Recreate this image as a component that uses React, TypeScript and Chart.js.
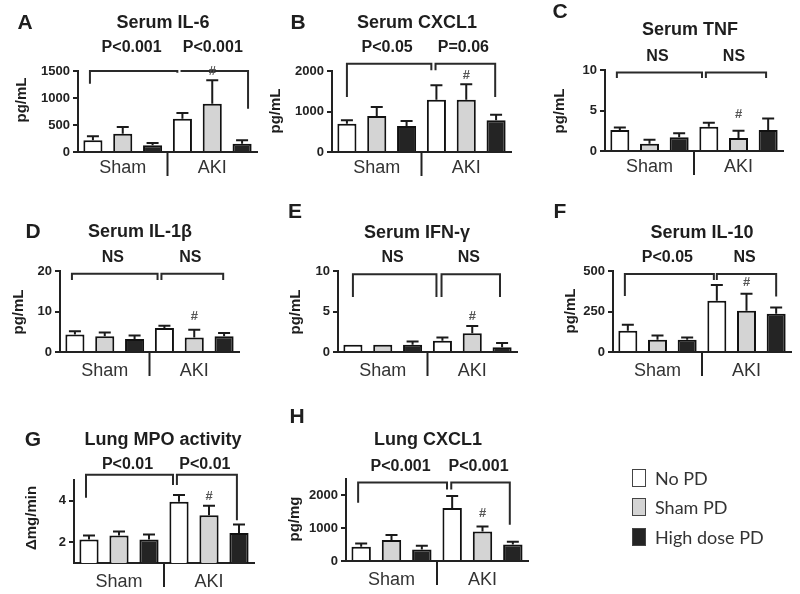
import React, { useEffect, useRef } from "react";
import { Chart, registerables } from "chart.js";
Chart.register(...registerables);

const FONT = "'Liberation Sans', Arial, Helvetica, sans-serif";
const W = 800;
const H = 594;
const Y_W = 40;
const X_H = 30;

const groups = ["Sham", "AKI"];
const treatments = ["No PD", "Sham PD", "High dose PD"];
const fills = ["#ffffff", "#d4d4d4", "#242424"];

// order: Sham/NoPD, Sham/ShamPD, Sham/HighPD, AKI/NoPD, AKI/ShamPD, AKI/HighPD
const il6Mean = [216, 340, 123, 617, 895, 154];
const il6Upper = [290, 463, 167, 722, 1327, 216];
const il6Ticks = [0, 500, 1000, 1500];
const il6Stats = ["P<0.001", "P<0.001"];
const il6Brackets = [[-0.1, 2.83, 1500, 1265, 1469], [2.97, 5.2, 1500, 1480, 802]];

const cxcl1Mean = [700, 889, 642, 1292, 1292, 782];
const cxcl1Upper = [782, 1111, 765, 1646, 1670, 922];
const cxcl1Ticks = [0, 1000, 2000];
const cxcl1Stats = ["P<0.05", "P=0.06"];
const cxcl1Brackets = [[0, 2.83, 2181, 1358, 2016], [2.97, 4.97, 2181, 2016, 1358]];

const tnfMean = [2.6, 0.9, 1.7, 3.0, 1.6, 2.6];
const tnfUpper = [2.9, 1.4, 2.2, 3.5, 2.5, 4.0];
const tnfTicks = [0, 5, 10];
const tnfStats = ["NS", "NS"];
const tnfBrackets = [[-0.1, 2.77, 9.7, 9.0, 9.0], [2.9, 4.93, 9.7, 9.0, 9.0]];

const il1bMean = [4.3, 3.9, 3.2, 5.9, 3.6, 3.9];
const il1bUpper = [5.1, 4.8, 4.1, 6.5, 5.5, 4.7];
const il1bTicks = [0, 10, 20];
const il1bStats = ["NS", "NS"];
const il1bBrackets = [[-0.1, 2.77, 19.3, 17.8, 17.8], [2.9, 4.97, 19.3, 17.8, 17.8]];

const ifngMean = [0.9, 0.9, 0.9, 1.4, 2.3, 0.6];
const ifngUpper = [0.9, 0.9, 1.3, 1.8, 3.2, 1.1];
const ifngTicks = [0, 5, 10];
const ifngStats = ["NS", "NS"];
const ifngBrackets = [[0, 2.8, 9.6, 6.8, 6.8], [2.97, 4.93, 9.6, 6.8, 6.8]];

const il10Mean = [131, 76, 76, 316, 254, 236];
const il10Upper = [168, 102, 90, 414, 359, 275];
const il10Ticks = [0, 250, 500];
const il10Stats = ["P<0.05", "NS"];
const il10Brackets = [[-0.1, 2.9, 482, 346, 445], [3.0, 5.0, 482, 445, 342]];

const mpoMean = [2.13, 2.33, 2.13, 3.95, 3.3, 2.44];
const mpoUpper = [2.33, 2.52, 2.37, 4.28, 3.76, 2.86];
const mpoTicks = [2, 4];
const mpoStats = ["P<0.01", "P<0.01"];
const mpoBrackets = [[-0.1, 2.8, 5.25, 4.15, 4.76], [2.93, 4.93, 5.25, 4.76, 3.06]];

const lungMean = [433, 639, 350, 1619, 897, 505];
const lungUpper = [536, 794, 464, 1980, 1052, 588];
const lungTicks = [0, 1000, 2000];
const lungStats = ["P<0.001", "P<0.001"];
const lungBrackets = [[-0.1, 2.83, 2392, 1773, 2180], [2.97, 4.9, 2392, 2180, 1103]];

type Panel = {
  letter: string; letterPos: number[];
  title: string; titlePos: number[];
  yLabel: string; yLabelPos: number[];
  statY: number; stats: string[];
  mean: number[]; upper: number[]; ticks: number[];
  min: number; max: number; brackets: number[][];
  area: number[]; pad: number; hashGap: number;
};

const panels: Panel[] = [
  { letter: "A", letterPos: [25, 23], title: "Serum IL-6", titlePos: [163, 23], yLabel: "pg/mL", yLabelPos: [22, 100], statY: 48, stats: il6Stats, mean: il6Mean, upper: il6Upper, ticks: il6Ticks, min: 0, max: 1500, brackets: il6Brackets, area: [78, 257, 71, 152], pad: 5, hashGap: 9 },
  { letter: "B", letterPos: [298, 23], title: "Serum CXCL1", titlePos: [417, 23], yLabel: "pg/mL", yLabelPos: [276, 111], statY: 48, stats: cxcl1Stats, mean: cxcl1Mean, upper: cxcl1Upper, ticks: cxcl1Ticks, min: 0, max: 2000, brackets: cxcl1Brackets, area: [332, 511, 71, 152], pad: 5, hashGap: 9 },
  { letter: "C", letterPos: [560, 12], title: "Serum TNF", titlePos: [690, 30], yLabel: "pg/mL", yLabelPos: [560, 111], statY: 57, stats: tnfStats, mean: tnfMean, upper: tnfUpper, ticks: tnfTicks, min: 0, max: 10, brackets: tnfBrackets, area: [605, 783, 70, 151], pad: 5, hashGap: 16 },
  { letter: "D", letterPos: [33, 232], title: "Serum IL-1\u03b2", titlePos: [140, 232], yLabel: "pg/mL", yLabelPos: [19, 312], statY: 258, stats: il1bStats, mean: il1bMean, upper: il1bUpper, ticks: il1bTicks, min: 0, max: 20, brackets: il1bBrackets, area: [60, 239, 271, 352], pad: 8, hashGap: 13 },
  { letter: "E", letterPos: [295, 212], title: "Serum IFN-\u03b3", titlePos: [417, 233], yLabel: "pg/mL", yLabelPos: [296, 312], statY: 258, stats: ifngStats, mean: ifngMean, upper: ifngUpper, ticks: ifngTicks, min: 0, max: 10, brackets: ifngBrackets, area: [338, 517, 271, 352], pad: 8, hashGap: 10 },
  { letter: "F", letterPos: [560, 212], title: "Serum IL-10", titlePos: [702, 233], yLabel: "pg/mL", yLabelPos: [571, 311], statY: 258, stats: il10Stats, mean: il10Mean, upper: il10Upper, ticks: il10Ticks, min: 0, max: 500, brackets: il10Brackets, area: [613, 791, 271, 352], pad: 8, hashGap: 11 },
  { letter: "G", letterPos: [33, 440], title: "Lung MPO activity", titlePos: [163, 440], yLabel: "\u0394mg/min", yLabelPos: [32, 518], statY: 465, stats: mpoStats, mean: mpoMean, upper: mpoUpper, ticks: mpoTicks, min: 1, max: 5, brackets: mpoBrackets, area: [74, 254, 480, 563], pad: 8, hashGap: 9 },
  { letter: "H", letterPos: [297, 417], title: "Lung CXCL1", titlePos: [428, 440], yLabel: "pg/mg", yLabelPos: [295, 519], statY: 467, stats: lungStats, mean: lungMean, upper: lungUpper, ticks: lungTicks, min: 0, max: 2500, brackets: lungBrackets, area: [346, 528, 479, 561], pad: 8, hashGap: 13 },
];

function makeChart(canvas: HTMLCanvasElement, p: Panel) {
  const [L, R, T, B] = p.area;
  const decor = {
    id: "decor" + p.letter,
    afterDatasetsDraw(chart: any) {
      const ctx = chart.ctx;
      const ys = chart.scales.y;
      ctx.save();
      ctx.strokeStyle = "#1a1a1a";
      ctx.lineWidth = 2;
      for (let k = 0; k < 3; k++) {
        const meta = chart.getDatasetMeta(k);
        meta.data.forEach((el: any, g: number) => {
          const idx = g * 3 + k;
          if (p.upper[idx] <= p.mean[idx]) return;
          const yE = ys.getPixelForValue(p.upper[idx]);
          ctx.beginPath();
          ctx.moveTo(el.x, el.y);
          ctx.lineTo(el.x, yE);
          ctx.moveTo(el.x - 6, yE);
          ctx.lineTo(el.x + 6, yE);
          ctx.stroke();
        });
      }
      ctx.restore();
    },
    afterDraw(chart: any) {
      const ctx = chart.ctx;
      const ys = chart.scales.y;
      const xs = chart.scales.x;
      const x0 = chart.getDatasetMeta(0).data[0].x;
      const x5 = chart.getDatasetMeta(2).data[1].x;
      const step = (x5 - x0) / 5;
      const bx = (f: number) => x0 + f * step;
      ctx.save();
      ctx.fillStyle = "#1e1e1e";
      ctx.textAlign = "center";
      ctx.textBaseline = "middle";
      ctx.font = `bold 21px ${FONT}`;
      ctx.fillText(p.letter, p.letterPos[0], p.letterPos[1]);
      ctx.font = `bold 18px ${FONT}`;
      ctx.fillText(p.title, p.titlePos[0], p.titlePos[1]);
      // brackets + stats
      ctx.strokeStyle = "#2a2a2a";
      ctx.lineWidth = 2;
      ctx.font = `bold 16px ${FONT}`;
      p.brackets.forEach((b, i) => {
        const [f1, f2, top, dl, dr] = b;
        const yt = ys.getPixelForValue(top);
        ctx.beginPath();
        ctx.moveTo(bx(f1), ys.getPixelForValue(dl));
        ctx.lineTo(bx(f1), yt);
        ctx.lineTo(bx(f2), yt);
        ctx.lineTo(bx(f2), ys.getPixelForValue(dr));
        ctx.stroke();
        ctx.fillText(p.stats[i], (bx(f1) + bx(f2)) / 2 - 2, p.statY);
      });
      // hash
      ctx.fillStyle = "#555";
      ctx.font = `bold 13px ${FONT}`;
      const hb = chart.getDatasetMeta(1).data[1];
      ctx.fillText("#", hb.x, ys.getPixelForValue(p.upper[4]) - p.hashGap);
      // divider
      const mid = (xs.getPixelForValue(0) + xs.getPixelForValue(1)) / 2;
      ctx.strokeStyle = "#222";
      ctx.beginPath();
      ctx.moveTo(mid, chart.chartArea.bottom);
      ctx.lineTo(mid, chart.chartArea.bottom + 24);
      ctx.stroke();
      // y label
      ctx.fillStyle = "#1e1e1e";
      ctx.font = `bold 15px ${FONT}`;
      ctx.translate(p.yLabelPos[0], p.yLabelPos[1]);
      ctx.rotate(-Math.PI / 2);
      ctx.fillText(p.yLabel, 0, 0);
      ctx.restore();
    },
  };
  return new Chart(canvas, {
    type: "bar",
    data: {
      labels: groups,
      datasets: treatments.map((t, k) => ({
        label: t,
        data: [p.mean[k], p.mean[k + 3]],
        backgroundColor: fills[k],
        borderColor: "#111",
        borderWidth: 2,
        barPercentage: 0.64,
        categoryPercentage: 1,
      })),
    },
    options: {
      responsive: false,
      animation: false,
      devicePixelRatio: 1,
      layout: { padding: { left: L - Y_W, top: T, right: W - R, bottom: H - B - X_H } },
      plugins: { legend: { display: false }, tooltip: { enabled: false } },
      scales: {
        x: {
          grid: { display: false, drawTicks: false },
          border: { display: true, color: "#222", width: 2 },
          ticks: { font: { family: FONT, size: 18 }, color: "#333", padding: p.pad },
          afterFit: (s: any) => { s.height = X_H; },
        },
        y: {
          min: p.min,
          max: p.max,
          grid: { display: true, drawOnChartArea: false, drawTicks: true, tickLength: 5, lineWidth: 2, color: "#222" },
          border: { display: true, color: "#222", width: 2 },
          ticks: { font: { family: FONT, size: 13, weight: "bold" }, color: "#222", padding: 3, callback: (v: any) => String(v) },
          afterBuildTicks: (s: any) => { s.ticks = p.ticks.map((v) => ({ value: v })); },
          afterFit: (s: any) => { s.width = Y_W; },
        },
      },
    } as any,
    plugins: [decor],
  });
}

function PanelCanvas({ p }: { p: Panel }) {
  const ref = useRef<HTMLCanvasElement>(null);
  useEffect(() => {
    const c = makeChart(ref.current!, p);
    return () => c.destroy();
  }, [p]);
  return <canvas ref={ref} width={W} height={H} style={{ position: "absolute", left: 0, top: 0, width: W, height: H }} />;
}

const legendRows = [478, 507, 537];

export default function App() {
  return (
    <div style={{ position: "fixed", left: 0, top: 0, width: W, height: H, background: "#fff", overflow: "hidden" }}>
      {panels.map((p) => <PanelCanvas key={p.letter} p={p} />)}
      {treatments.map((t, k) => (
        <div key={t} style={{ position: "absolute", left: 632, top: legendRows[k] - 10, height: 20, display: "flex", alignItems: "center", fontFamily: "Lato, 'Liberation Sans', sans-serif", fontSize: 18, color: "#333" }}>
          <div style={{ width: 12, height: 16, border: "1.5px solid #444", background: fills[k], marginRight: 9 }} />
          <span>{t}</span>
        </div>
      ))}
    </div>
  );
}
